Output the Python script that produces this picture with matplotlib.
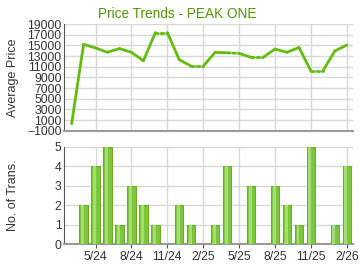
import matplotlib
matplotlib.use("Agg")
import matplotlib.pyplot as plt
import numpy as np

months = ["3/24", "4/24", "5/24", "6/24", "7/24", "8/24", "9/24", "10/24", "11/24", "12/24",
          "1/25", "2/25", "3/25", "4/25", "5/25", "6/25", "7/25", "8/25", "9/25", "10/25",
          "11/25", "12/25", "1/26", "2/26"]
avg_price = [300, 15200, 14500, 13700, 14400, 13700, 12100, 17400, 17400, 12300,
             11100, 11100, 13700, 13600, 13500, 12750, 12750, 14300, 13700, 14600,
             10200, 10200, 13950, 15050]
trans = [0, 2, 4, 5, 1, 3, 2, 1, 0, 2,
         1, 0, 1, 4, 0, 3, 0, 3, 2, 1,
         5, 0, 1, 4]
tick_labels = ["5/24", "8/24", "11/24", "2/25", "5/25", "8/25", "11/25", "2/26"]

plt.rcParams['font.family'] = ['Liberation Sans', 'DejaVu Sans']

fig = plt.figure(figsize=(3.6, 2.7), dpi=100)
ax1 = fig.add_axes([0.179, 0.516, 0.802, 0.395])
ax2 = fig.add_axes([0.179, 0.096, 0.802, 0.36])

x = np.arange(len(months))
tick_pos = [months.index(t) for t in tick_labels]

line_col = '#66bb11'
grid_col = '#d8d8d8'

for ax in (ax1, ax2):
    ax.set_xlim(-0.6, len(months) - 0.47)
    ax.set_xticks(tick_pos)
    for s in ('top', 'right'):
        ax.spines[s].set_visible(False)
    ax.spines['left'].set_color('#555555')
    ax.spines['bottom'].set_color('#999999')
    ax.spines['bottom'].set_linewidth(1.5)
    ax.grid(True, color=grid_col, linewidth=1.0)
    ax.set_axisbelow(True)
    ax.tick_params(labelsize=8.8, length=0, colors='#333333', pad=2)

# Top: price line
for i in range(len(months) - 1):
    dotted = trans[i + 1] == 0
    ax1.plot(x[i:i + 2], avg_price[i:i + 2], color=line_col, lw=2,
             linestyle=(0, (1, 1)) if dotted else '-', solid_capstyle='round',
             dash_capstyle='round')
ax1.set_ylim(-1000, 19000)
ax1.set_yticks(np.arange(-1000, 19001, 2000))
ax1.set_xticklabels([])
ax1.set_ylabel("Average Price", fontsize=9, color='#333333')
ax1.yaxis.set_label_coords(-0.156, 0.5)
ax1.set_title("Price Trends - PEAK ONE", fontsize=9.8, color='#4f9a00', pad=4, x=0.39)

# Bottom: transactions
bw = 0.7
ax2.bar(x, trans, width=bw, color='#7cc63c', edgecolor='#5aa80a', linewidth=0.6, zorder=3)
ax2.bar(x - 0.08, trans, width=bw * 0.35, color='#a6dd72', linewidth=0, zorder=4)
ax2.set_ylim(0, 5)
ax2.set_yticks(range(0, 6))
ax2.set_xticklabels(tick_labels)
ax2.tick_params(axis='x', length=3, color='#555555')
ax2.set_ylabel("No. of Trans.", fontsize=9, color='#333333')
ax2.yaxis.set_label_coords(-0.156, 0.5)

fig.savefig("out.png", dpi=100)
